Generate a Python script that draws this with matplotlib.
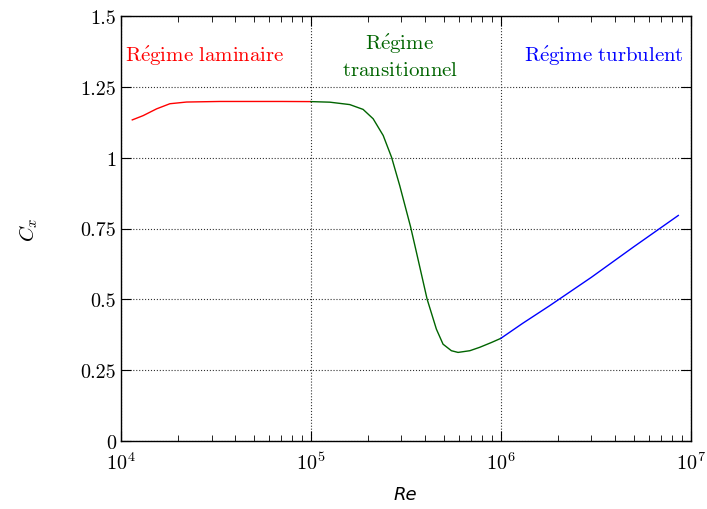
import numpy as np
import matplotlib
matplotlib.use('Agg')
import matplotlib.pyplot as plt
from matplotlib.ticker import FuncFormatter, LogLocator, MultipleLocator

plt.rcParams['font.family'] = ['cmr10', 'DejaVu Serif']
plt.rcParams['mathtext.fontset'] = 'cm'
plt.rcParams['axes.formatter.use_mathtext'] = True

# Données
re_lam = [1.148e4, 1.309e4, 1.542e4, 1.811e4, 2.218e4, 3.32e4, 5e4, 7e4, 1e5]
cx_lam = [1.133, 1.148, 1.172, 1.19, 1.196, 1.198, 1.198, 1.198, 1.1975]

re_tr = [1e5, 1.259e5, 1.603e5, 1.884e5, 2.128e5, 2.404e5, 2.661e5, 2.938e5, 3.35e5,
         3.597e5, 4.093e5, 4.581e5, 4.966e5, 5.495e5, 5.957e5, 6.871e5, 7.745e5,
         8.93e5, 1e6]
cx_tr = [1.1975, 1.1955, 1.187, 1.170, 1.137, 1.078, 1.001, 0.901, 0.756,
         0.666, 0.501, 0.395, 0.342, 0.319, 0.313, 0.319, 0.331,
         0.348, 0.3625]

re_turb = [1e6, 1.3e6, 1.81e6, 3e6, 5e6, 8.6e6]
cx_turb = [0.3625, 0.415, 0.478, 0.578, 0.685, 0.796]

fig = plt.figure(figsize=(7.07, 5.10), dpi=100)
ax = fig.add_axes([0.171, 0.133, 0.806, 0.834])

ax.plot(re_lam, cx_lam, color='#ff0000', lw=1.0)
ax.plot(re_tr, cx_tr, color='#006400', lw=1.0)
ax.plot(re_turb, cx_turb, color='#0000ff', lw=1.0)

ax.set_xscale('log')
ax.set_xlim(1e4, 1e7)
ax.set_ylim(0, 1.5)
ax.yaxis.set_major_locator(MultipleLocator(0.25))
ax.yaxis.set_major_formatter(FuncFormatter(lambda v, p: '%g' % v))
ax.xaxis.set_minor_locator(LogLocator(base=10, subs=np.arange(2, 10)))

ax.grid(True, which='major', linestyle=':', color='#333333', lw=0.8)
ax.tick_params(which='both', direction='in', top=True, right=True, labelsize=14.5)
ax.tick_params(which='major', length=7, width=0.8)
ax.tick_params(which='minor', length=4, width=0.6)
ax.tick_params(axis='x', pad=7)
for s in ax.spines.values():
    s.set_linewidth(1.0)

ax.text(2.77e4, 1.36, r"$\mathrm{R\acute{e}gime\ laminaire}$", color='#ff0000',
        fontsize=15, ha='center', va='center')
ax.text(2.94e5, 1.36, r"$\mathrm{R\acute{e}gime}$" + '\n' + r"$\mathrm{transitionnel}$",
        color='#006400', fontsize=15, ha='center', va='center', linespacing=1.45)
ax.text(3.48e6, 1.36, r"$\mathrm{R\acute{e}gime\ turbulent}$", color='#0000ff',
        fontsize=15, ha='center', va='center')

ax.set_xlabel('Re', family='DejaVu Sans', style='italic', fontsize=13, labelpad=9)
ax.set_ylabel(r'$C_x$', fontsize=15, labelpad=29)

fig.savefig('out.png', dpi=100)
